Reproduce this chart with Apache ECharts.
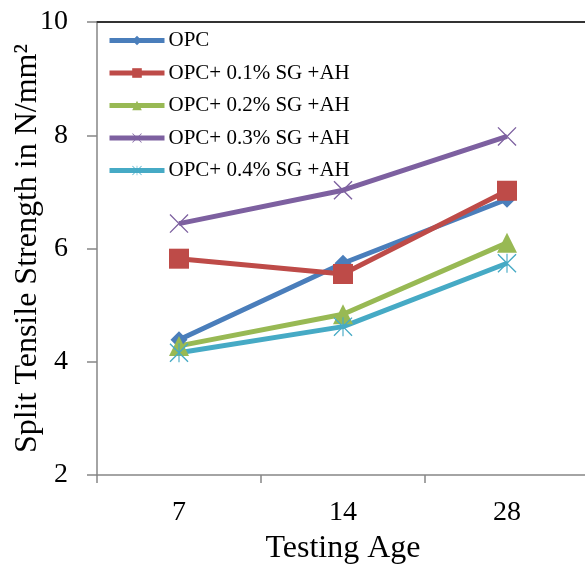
<!DOCTYPE html>
<html>
<head>
<meta charset="utf-8">
<script src="https://cdn.jsdelivr.net/npm/echarts@6/dist/echarts.min.js"></script>
<style>
  html, body { margin: 0; padding: 0; background: #fff; }
  #main { width: 585px; height: 565px; }
</style>
</head>
<body>
<div id="main"></div>
<script>
// testing age (days)
var ages = ['7', '14', '28']
var opc = [4.39, 5.74, 6.87]
var sg01 = [5.82, 5.55, 7.02]
var sg02 = [4.28, 4.84, 6.1]
var sg03 = [6.44, 7.03, 7.98]
var sg04 = [4.16, 4.62, 5.74]
var names = ['OPC', 'OPC+ 0.1% SG +AH', 'OPC+ 0.2% SG +AH', 'OPC+ 0.3% SG +AH', 'OPC+ 0.4% SG +AH']
var colors = ['#4a7ebb', '#be4b48', '#98b954', '#7d60a0', '#46aac5']

// x and asterisk markers as thin filled shapes
var xMark = 'path://M1,0 L10,9 L19,0 L20,1 L11,10 L20,19 L19,20 L10,11 L1,20 L0,19 L9,10 L0,1 Z'
var starMark = 'path://M1,0 L10,9 L19,0 L20,1 L11,10 L20,19 L19,20 L10,11 L1,20 L0,19 L9,10 L0,1 Z M9.4,0 L10.6,0 L10.6,20 L9.4,20 Z'

var font = '"Liberation Serif", "Times New Roman", serif'

function makeSeries(name, data, color, symbol, size) {
  return {
    name: name,
    type: 'line',
    data: data,
    symbol: symbol,
    symbolSize: size,
    showSymbol: true,
    lineStyle: { width: 5, color: color },
    itemStyle: { color: color },
    z: 3
  }
}

var chart = echarts.init(document.getElementById('main'))
chart.setOption({
  animation: false,
  legend: {
    orient: 'vertical',
    left: 102,
    top: 25,
    itemGap: 11.5,
    itemWidth: 55,
    itemHeight: 12,
    lineStyle: { width: 5 },
    textStyle: { fontFamily: font, fontSize: 21, lineHeight: 21, color: '#000', padding: [0, 0, 0, -1] },
    data: names
  },
  grid: {
    left: 97,
    right: -4,
    top: 22,
    bottom: 90,
    containLabel: false,
    outerBoundsMode: 'none'
  },
  xAxis: [
    {
      type: 'category',
      data: ages,
      boundaryGap: true,
      name: 'Testing Age',
      nameLocation: 'middle',
      nameGap: 58,
      nameMoveOverlap: false,
      nameTextStyle: { fontFamily: font, fontSize: 32, color: '#000' },
      axisLine: { lineStyle: { color: '#868686', width: 1.5 } },
      axisTick: { show: true, length: 8, lineStyle: { color: '#868686', width: 1.5 } },
      axisLabel: { fontFamily: font, fontSize: 28, color: '#000', margin: 24 }
    },
    {
      type: 'category',
      data: ages,
      position: 'top',
      axisLine: { lineStyle: { color: '#333', width: 2 } },
      axisTick: { show: false },
      axisLabel: { show: false }
    }
  ],
  yAxis: {
    type: 'value',
    min: 2,
    max: 10,
    interval: 2,
    name: 'Split Tensile Strength in N/mm²',
    nameLocation: 'middle',
    nameGap: 53,
    nameMoveOverlap: false,
    nameTextStyle: { fontFamily: font, fontSize: 32, color: '#000' },
    axisLine: { show: true, lineStyle: { color: '#868686', width: 1.5 } },
    axisTick: { show: true, length: 10, lineStyle: { color: '#868686', width: 1.5 } },
    axisLabel: { fontFamily: font, fontSize: 28, color: '#000', margin: 29 },
    splitLine: { show: false }
  },
  series: [
    makeSeries(names[0], opc, colors[0], 'diamond', 17),
    makeSeries(names[1], sg01, colors[1], 'rect', 20),
    makeSeries(names[2], sg02, colors[2], 'triangle', 20),
    makeSeries(names[3], sg03, colors[3], xMark, 19),
    makeSeries(names[4], sg04, colors[4], starMark, 19)
  ]
})
</script>
</body>
</html>
